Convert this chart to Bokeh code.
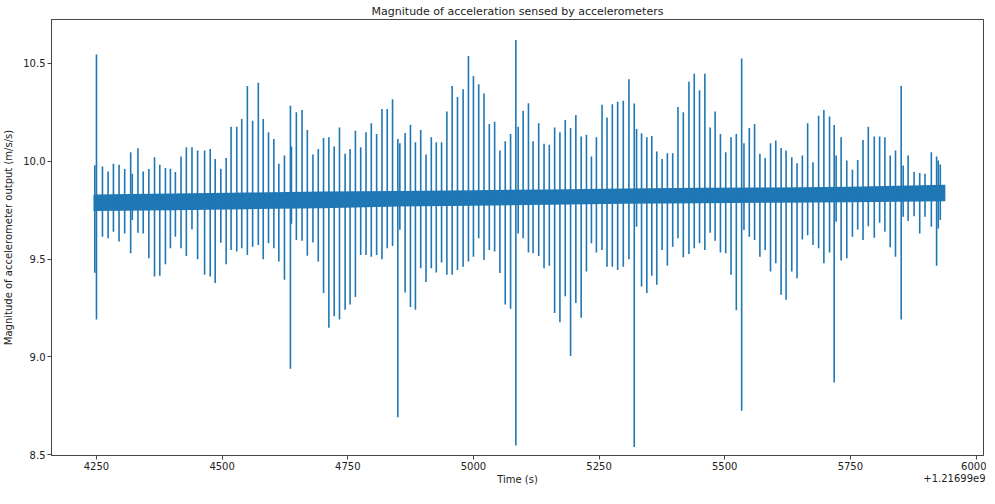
from bokeh.plotting import figure
from bokeh.models import Range1d, FixedTicker, PrintfTickFormatter, LinearAxis
from bokeh.embed import file_html
from bokeh.resources import INLINE

# Time axis values are offsets from 1.21699e9 s
x_ticks = [4250, 4500, 4750, 5000, 5250, 5500, 5750, 6000]
y_ticks = [8.5, 9.0, 9.5, 10.0, 10.5]
offset_text = "+1.21699e9"

# Dense low-amplitude noise band (lower / upper envelope)
band_t = [4244, 4400, 4550, 4700, 4850, 5000, 5150, 5300, 5450, 5600, 5750, 5939]
band_lo = [9.745, 9.750, 9.755, 9.760, 9.768, 9.772, 9.778, 9.782, 9.785, 9.788, 9.790, 9.795]
band_hi = [9.830, 9.835, 9.840, 9.845, 9.848, 9.852, 9.856, 9.860, 9.864, 9.866, 9.870, 9.880]

# Spike events: time, highest and lowest value of each excursion
spike_t = [
    4246.7, 4250.0, 4261.9, 4273.1, 4283.7, 4294.9, 4306.1, 4318.0, 4321.3, 4332.5,
    4343.0, 4354.2, 4365.5, 4376.0, 4387.2, 4397.1, 4407.0, 4418.2, 4428.8, 4440.0,
    4451.2, 4465.1, 4476.3, 4486.2, 4497.4, 4508.0, 4517.8, 4529.1, 4539.0, 4550.2,
    4560.7, 4572.0,
    4581.8, 4592.3, 4602.9, 4612.8, 4624.0, 4635.9, 4637.9, 4647.7, 4659.0, 4669.5,
    4680.7, 4691.3, 4701.8, 4712.4, 4723.0, 4733.5, 4744.7, 4754.6, 4765.2, 4775.7,
    4786.3, 4796.8, 4807.4, 4818.0, 4828.5, 4839.1, 4849.6, 4853.6, 4864.1, 4874.7,
    4884.6, 4895.1, 4905.7, 4916.2,
    4926.1, 4936.6, 4947.2, 4957.7, 4968.3, 4979.5, 4990.1, 5000.0, 5010.5, 5021.1,
    5031.6, 5042.2, 5052.7, 5063.3, 5073.9, 5084.4, 5089.0, 5098.9, 5109.5, 5118.7,
    5129.9, 5140.5, 5151.0, 5161.6, 5172.1, 5182.7, 5193.3, 5203.8, 5214.4, 5224.9,
    5234.8, 5244.7, 5255.9, 5265.8,
    5276.4, 5287.0, 5298.2, 5309.4, 5320.0, 5324.6, 5334.5, 5345.0, 5354.9, 5364.8,
    5375.4, 5385.9, 5396.5, 5407.0, 5417.6, 5428.8, 5439.4, 5449.9, 5460.5, 5471.0,
    5480.9, 5491.5, 5502.0, 5512.6, 5523.1, 5533.7, 5538.3, 5548.9, 5559.4, 5570.0,
    5580.5, 5591.1, 5601.6, 5612.2,
    5622.1, 5633.4, 5643.9, 5654.5, 5665.0, 5675.6, 5686.8, 5697.3, 5708.6, 5717.8,
    5721.7, 5731.6, 5742.9, 5754.1, 5764.6, 5775.2, 5785.7, 5797.6, 5808.2, 5818.7,
    5829.3, 5839.8, 5851.1, 5855.0, 5864.9, 5876.8, 5888.0, 5898.5, 5911.1, 5921.6,
    5924.9, 5928.9,
]
spike_high = [
    9.980, 10.546, 9.973, 9.948, 9.987, 9.982, 9.960, 10.046, 9.936, 10.067,
    9.948, 9.960, 10.021, 9.982, 9.965, 9.962, 9.945, 10.024, 10.072, 10.072,
    10.055, 10.055, 10.063, 10.012, 9.962, 10.017, 10.177, 10.177, 10.216, 10.385,
    10.207, 10.402,
    10.216, 10.148, 10.114, 9.987, 10.029, 10.284, 10.075, 10.250, 10.262, 10.160,
    10.034, 10.063, 10.119, 10.123, 10.075, 10.173, 10.038, 10.063, 10.156, 10.072,
    10.148, 10.194, 10.140, 10.267, 10.267, 10.317, 10.114, 10.092, 10.145, 10.187,
    10.097, 10.160, 10.034, 10.123,
    10.097, 10.097, 10.255, 10.385, 10.329, 10.368, 10.538, 10.436, 10.394, 10.346,
    10.190, 10.202, 10.055, 10.102, 10.140, 10.620, 10.177, 10.258, 10.297, 10.102,
    10.194, 10.089, 10.085, 10.173, 10.148, 10.211, 10.170, 10.236, 10.126, 10.136,
    10.024, 10.123, 10.289, 10.224,
    10.292, 10.304, 10.309, 10.419, 10.295, 10.165, 10.143, 10.123, 10.129, 10.050,
    10.012, 10.041, 10.041, 10.278, 10.250, 10.407, 10.448, 10.363, 10.448, 10.173,
    10.255, 10.140, 10.046, 10.123, 10.140, 10.526, 10.092, 10.170, 10.190, 10.038,
    10.017, 10.092, 10.106, 10.068,
    10.055, 10.021, 9.990, 10.029, 10.194, 9.995, 10.233, 10.262, 10.229, 10.185,
    10.029, 10.123, 10.004, 9.956, 10.007, 10.109, 10.177, 10.126, 10.126, 10.123,
    10.029, 10.055, 10.385, 9.978, 10.029, 9.945, 9.940, 9.936, 10.046, 10.024,
    10.004, 9.983,
]
spike_low = [
    9.430, 9.190, 9.614, 9.606, 9.640, 9.590, 9.630, 9.530, 9.700, 9.634,
    9.630, 9.504, 9.410, 9.414, 9.473, 9.555, 9.614, 9.555, 9.516, 9.651,
    9.499, 9.419, 9.410, 9.377, 9.583, 9.473, 9.546, 9.538, 9.555, 9.521,
    9.563, 9.572,
    9.499, 9.580, 9.555, 9.487, 9.394, 8.939, 9.680, 9.597, 9.594, 9.517,
    9.585, 9.487, 9.326, 9.148, 9.207, 9.190, 9.241, 9.267, 9.306, 9.521,
    9.521, 9.512, 9.521, 9.499, 9.555, 9.566, 8.690, 9.650, 9.329, 9.255,
    9.241, 9.453, 9.382, 9.453,
    9.431, 9.482, 9.419, 9.419, 9.444, 9.461, 9.487, 9.512, 9.606, 9.495,
    9.546, 9.538, 9.428, 9.267, 9.245, 8.546, 9.631, 9.606, 9.533, 9.529,
    9.516, 9.453, 9.465, 9.224, 9.177, 9.309, 9.004, 9.275, 9.199, 9.436,
    9.580, 9.533, 9.546, 9.461,
    9.461, 9.444, 9.461, 9.499, 8.538, 9.665, 9.360, 9.326, 9.414, 9.368,
    9.546, 9.465, 9.563, 9.606, 9.509, 9.526, 9.555, 9.580, 9.546, 9.634,
    9.594, 9.533, 9.529, 9.419, 9.238, 8.724, 9.648, 9.614, 9.597, 9.512,
    9.546, 9.436, 9.478, 9.317,
    9.292, 9.436, 9.402, 9.600, 9.622, 9.572, 9.555, 9.478, 9.533, 8.868,
    9.690, 9.492, 9.504, 9.614, 9.651, 9.597, 9.668, 9.609, 9.685, 9.640,
    9.560, 9.512, 9.190, 9.716, 9.695, 9.719, 9.630, 9.716, 9.665, 9.465,
    9.656, 9.700,
]

BLUE = "#1f77b4"
FONT = "DejaVu Sans"
TXT = "#222222"
LINE = "#444444"

p = figure(
    frame_width=932, frame_height=436,
    output_backend="svg", toolbar_location=None,
    x_range=Range1d(4160.5, 6014.9), y_range=Range1d(8.495, 10.725),
    title="Magnitude of acceleration sensed by accelerometers",
    min_border_top=18, min_border_right=3, min_border_bottom=0, min_border_left=44,
)

p.varea(x=band_t, y1=band_lo, y2=band_hi, fill_color=BLUE, fill_alpha=1.0)
p.segment(x0=spike_t, y0=spike_low, x1=spike_t, y1=spike_high,
          line_color=BLUE, line_width=1.6)

p.title.align = "center"
p.title.text_font = FONT
p.title.text_font_size = "11px"
p.title.text_font_style = "normal"
p.title.text_color = TXT
p.title.standoff = 4

p.grid.visible = False
p.outline_line_color = LINE
p.outline_line_width = 1

p.xaxis.ticker = FixedTicker(ticks=x_ticks)
p.yaxis.ticker = FixedTicker(ticks=y_ticks)
p.xaxis.formatter = PrintfTickFormatter(format="%d")
p.yaxis.formatter = PrintfTickFormatter(format="%.1f")
p.xaxis.axis_label = "Time (s)"
p.yaxis.axis_label = "Magnitude of accelerometer output (m/s/s)"


def style_axis(ax):
    ax.minor_tick_line_color = None
    ax.major_tick_in = 0
    ax.major_tick_out = 4
    ax.major_tick_line_color = LINE
    ax.axis_line_color = LINE
    ax.major_label_text_font = FONT
    ax.major_label_text_font_size = "10px"
    ax.major_label_text_color = TXT
    ax.major_label_text_line_height = 1.0
    ax.axis_label_text_font = FONT
    ax.axis_label_text_font_size = "10px"
    ax.axis_label_text_font_style = "normal"
    ax.axis_label_text_color = TXT
    ax.axis_label_text_line_height = 1.0
    ax.major_label_standoff = 2
    ax.axis_label_standoff = 1


style_axis(p.xaxis[0])
style_axis(p.yaxis[0])
p.yaxis[0].axis_label_standoff = 6

# matplotlib-style offset text, drawn on the same row as the axis title
offset_pos = 5957
ax2 = LinearAxis(ticker=FixedTicker(ticks=[offset_pos]),
                 major_label_overrides={offset_pos: offset_text})
style_axis(ax2)
ax2.axis_line_color = None
ax2.major_tick_line_color = None
ax2.major_tick_out = 0
ax2.major_label_standoff = -14
p.add_layout(ax2, "below")

open("out.html", "w").write(file_html(p, INLINE))
